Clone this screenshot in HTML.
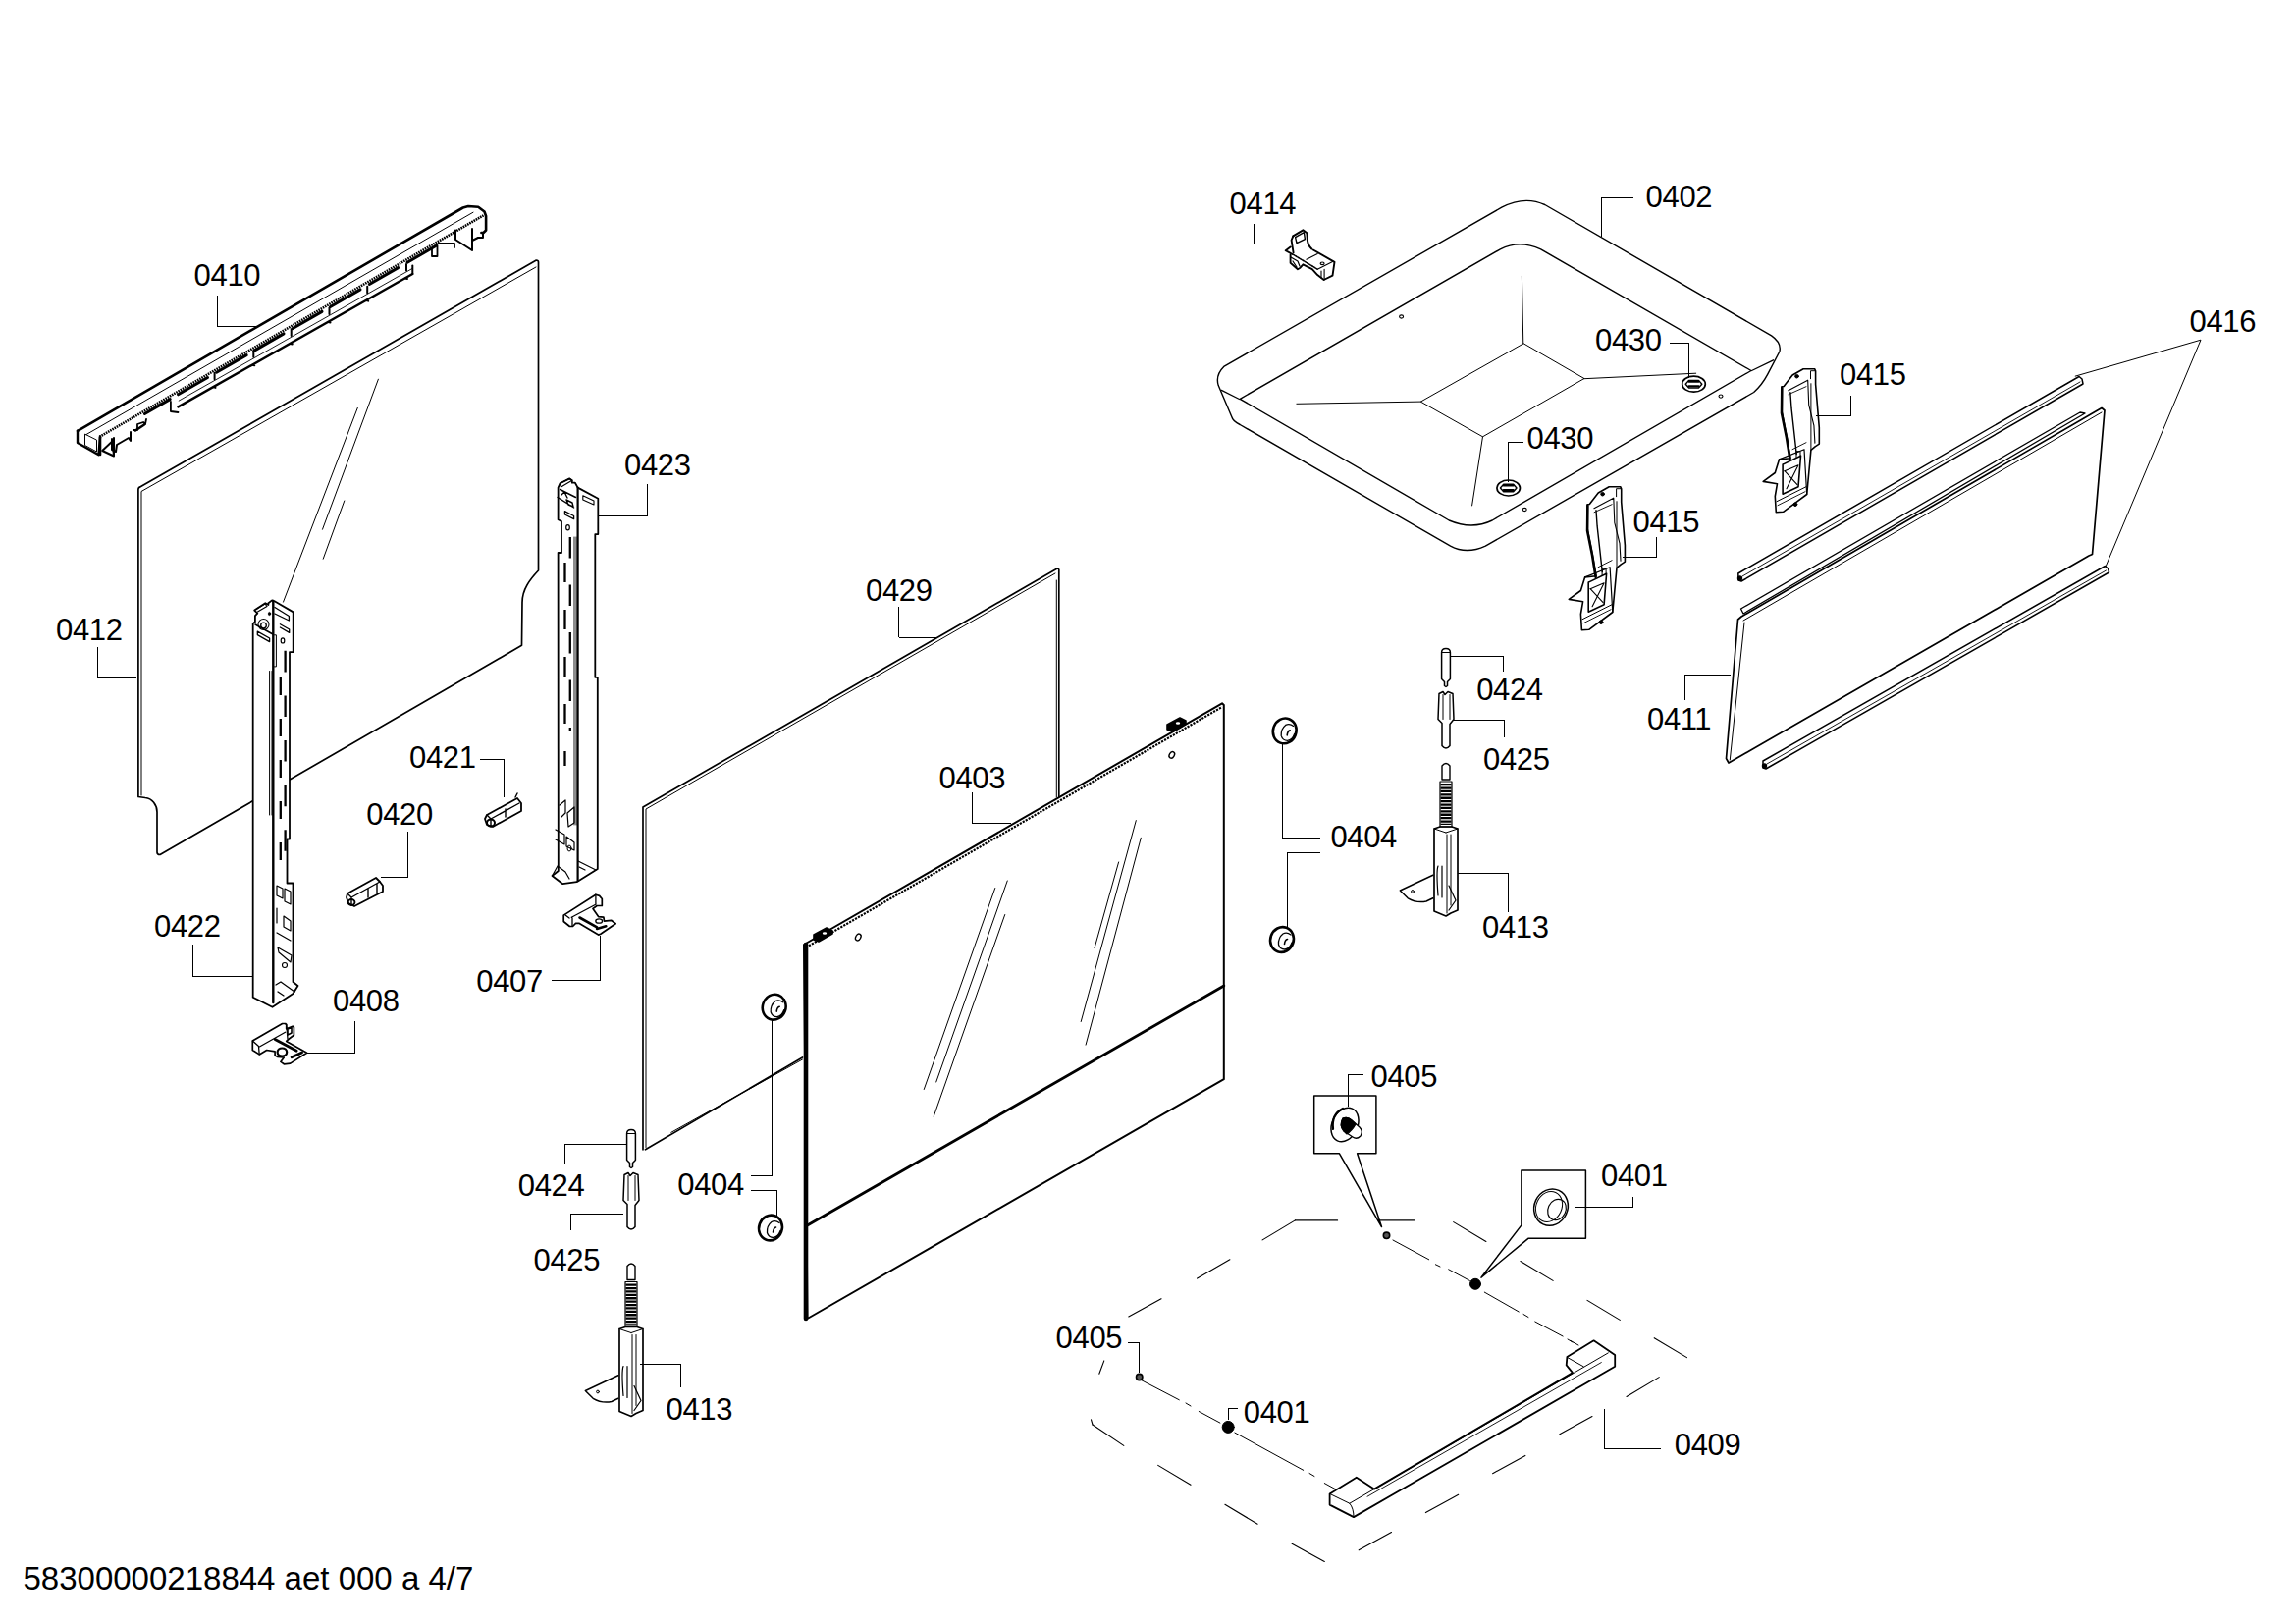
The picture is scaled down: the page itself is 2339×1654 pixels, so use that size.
<!DOCTYPE html>
<html><head><meta charset="utf-8"><style>
html,body{margin:0;padding:0;background:#fff;width:2339px;height:1654px;overflow:hidden}
svg{position:absolute;left:0;top:0}
text{font-family:"Liberation Sans",sans-serif;fill:#000;stroke:none;letter-spacing:-0.35px}
</style></head><body>
<svg width="2339" height="1654" viewBox="0 0 2339 1654" fill="none" stroke="#000" stroke-linejoin="round" stroke-linecap="round">
<path d="M79,438.8 L471.7,211.5 L477,210 L487.2,210.8 L493.5,215.5 L495.1,220 L495.1,234.5 L492.5,237 L490.4,237" stroke-width="2.6" />
<line x1="88.00" y1="442.50" x2="482.00" y2="216.20" stroke-width="1.0" />
<path d="M101.4,444.8 L492.5,219.3" stroke-width="2.6" stroke-dasharray="1.6,0.9" stroke-linecap="butt"/>
<path d="M79,438.8 L79,451 L100.5,463.2 L102,444.8" stroke-width="2.4" />
<path d="M86.5,442.5 L86.5,453.5 L98.5,460 L98.5,448.5 Z" stroke-width="1.0" />
<path d="M102,445 L102,463" stroke-width="2.6" />
<path d="M104.2,459 L114.6,449.2 L116,464.5 L104.2,459 M116,464.5 L116,446" stroke-width="2.0" />
<path d="M114,447 L114,458 L118,460 L119,453 L131,446 L133,449 L133,440" stroke-width="2.0" />
<path d="M136,438 L140,438 L140,432 L146,430 L148,432 L149,427" stroke-width="1.8" />
<line x1="138.00" y1="438.50" x2="147.00" y2="432.50" stroke-width="2.6" />
<line x1="147.40" y1="421.48" x2="173.20" y2="406.60" stroke-width="3.0" />
<line x1="181.50" y1="401.81" x2="211.50" y2="384.52" stroke-width="3.0" />
<line x1="220.60" y1="379.27" x2="251.20" y2="361.63" stroke-width="3.0" />
<line x1="259.00" y1="357.13" x2="289.00" y2="339.83" stroke-width="3.0" />
<line x1="297.80" y1="334.76" x2="328.00" y2="317.34" stroke-width="3.0" />
<line x1="336.50" y1="312.44" x2="367.00" y2="294.86" stroke-width="3.0" />
<line x1="376.30" y1="289.49" x2="405.60" y2="272.60" stroke-width="3.0" />
<line x1="415.00" y1="267.18" x2="444.30" y2="250.28" stroke-width="3.0" />
<line x1="181.50" y1="414.40" x2="420.30" y2="279.00" stroke-width="2.4" />
<line x1="182.20" y1="408.10" x2="420.00" y2="273.50" stroke-width="0.9" />
<path d="M218.6,379.86429999999996 L218.6,386.36429999999996" stroke-width="2.0" />
<path d="M217.6,394.36429999999996 L219.6,394.86429999999996" stroke-width="2.0" />
<path d="M258.3,357.3544 L258.3,363.8544" stroke-width="2.0" />
<path d="M257.3,371.8544 L259.3,372.3544" stroke-width="2.0" />
<path d="M296.7,335.5816 L296.7,342.0816" stroke-width="2.0" />
<path d="M295.7,350.0816 L297.7,350.5816" stroke-width="2.0" />
<path d="M335.5,313.582 L335.5,320.082" stroke-width="2.0" />
<path d="M334.5,328.082 L336.5,328.582" stroke-width="2.0" />
<path d="M374.2,291.6391 L374.2,298.1391" stroke-width="2.0" />
<path d="M373.2,306.1391 L375.2,306.6391" stroke-width="2.0" />
<path d="M414,269.0725 L414,275.5725" stroke-width="2.0" />
<path d="M413,283.5725 L415,284.0725" stroke-width="2.0" />
<path d="M173.9,409 L173.9,419 L181.5,420" stroke-width="1.8" />
<path d="M420.3,279 L420.3,270.6" stroke-width="2.0" />
<path d="M440,253 L440,261 L445.5,261 L445.5,250 M446.5,248 L463,248 L463,252" stroke-width="1.8" />
<path d="M464,234.5 L464,244 L481,255 L481,233 M481,245 L487,242 L492,242 L492,237" stroke-width="2.0" />
<path d="M140.9,811.5 L140.9,498.5 Q141,496 143.5,495.6 L546.3,265 Q548.5,265 548.5,267 L548.5,581 C540,590 532,600 532,613.5 L531.5,657.3 L163,870.5 Q160,870.5 160,868 L160,827 C160,820 155,813 148,812.5 L140.9,811.5" stroke-width="1.7" />
<path d="M144,810 L144,500.5 L546,272" stroke-width="1.0" />
<line x1="385.40" y1="386.20" x2="328.50" y2="539.20" stroke-width="1.0" />
<line x1="364.30" y1="415.40" x2="288.50" y2="613.10" stroke-width="1.0" />
<line x1="350.80" y1="510.00" x2="329.20" y2="569.20" stroke-width="1.0" />
<path d="M257.7,1015.7 L257.7,635.1 L259.9,633.3 L259.9,627.1 L262.3,624.6 L259.2,621.6 L270.3,614.2 L273.4,616 L273.4,614.2 L277.1,611.4 L279.6,612.3 L298.7,623.4 L298.7,664.1 L295,664.1 L295,854.5 L292.5,854.5 L292.5,899.5 L298.5,899.5 L298.5,1000 L303.5,1004 L298.5,1012 L277.5,1025.8 L257.7,1015.7" stroke-width="1.8" fill="#fff"/>
<line x1="278.30" y1="612.00" x2="278.30" y2="1021.00" stroke-width="2.4" />
<path d="M274.6,683.5 L274.6,830 M277,683.5 L277,830" stroke-width="1.0" />
<path d="M279.5,646.8 L281.4,646.8 L281.4,678.9 L279.5,678.9" stroke-width="1.0" />
<path d="M285.8,690 L285.8,890" stroke-width="2.3" stroke-dasharray="18,24" stroke-linecap="butt"/>
<path d="M290.6,662.8 L290.6,890" stroke-width="2.3" stroke-dasharray="21.6,24" stroke-linecap="butt"/>
<path d="M261,620.5 L270,615 L272,617.5 L262.5,623" stroke-width="1.2" />
<path d="M279.9,618.5 L294.4,627.5 L294.4,632 L279.9,625" stroke-width="1.3" />
<path d="M285.4,635.7 L294.7,641 L294.7,644.4 L285.4,639" stroke-width="1.3" />
<ellipse cx="288" cy="652.4" rx="1.8" ry="2.6" stroke-width="1.2"/>
<circle cx="268.5" cy="636" r="5.5" stroke-width="1.1"/>
<circle cx="268.5" cy="637" r="2.8" stroke-width="1.3"/>
<path d="M260,636 L278,646" stroke-width="1.6" />
<path d="M262.3,643.1 L274.6,650 L274.6,653.6 L262.3,646.6 Z" stroke-width="1.3" />
<ellipse cx="274.5" cy="625" rx="1.2" ry="1.6" fill="#000" stroke-width="0.8"/>
<path d="M282,902 L288,905 L288,915 L282,912 Z M290,905 L296,908 L296,921 L290,918 Z" stroke-width="1.2" />
<path d="M282,925 L282,940 M289,933 L296,938 L296,948 L289,944 Z" stroke-width="1.2" />
<path d="M282,950 L296,958 M283,965 L297,973 L296,980 L290,975 L284,970 Z" stroke-width="1.2" />
<circle cx="290" cy="983" r="2.5" stroke-width="1.1"/>
<path d="M281,1003 L286,1000 L300,1010 M283,1010 L289,1014" stroke-width="1.3" />
<path d="M568.8,887 L568.6,563 L572,563 L572,531 L568.6,529.3 L568.6,496.6 L570.5,492.3 L580.3,487.4 L582.8,489.2 L582.8,491.7 L585.9,491.7 L588.6,496.6 L609.3,507.7 L609.3,544.1 L606.3,544.1 L606.3,689.8 L608.8,689.8 L608.8,885 L587.6,898.2 L573.3,900.2 L562.5,892 L568.8,887" stroke-width="1.8" fill="#fff"/>
<line x1="588.60" y1="496.60" x2="588.60" y2="897.00" stroke-width="2.2" />
<path d="M585,547 L585,840 M587,547 L587,840" stroke-width="0.9" />
<path d="M593.8,504.8 L605,510 L605,514 L593.8,509 Z" stroke-width="1.1" />
<path d="M575.5,573 L575.5,780" stroke-width="2.3" stroke-dasharray="20,28" stroke-linecap="butt"/>
<path d="M580.8,547 L580.8,745" stroke-width="2.3" stroke-dasharray="21.5,27" stroke-linecap="butt"/>
<path d="M570.5,492.3 L580.3,487.4 L582.8,489.2 L571.5,496 Z" stroke-width="1.2" />
<path d="M570.5,498.5 L586.5,506.5 M568,506.5 L584.6,517 M572,504 L575,501 L578,507 M577,509 L583,512 L584,516 L579,514 Z" stroke-width="1.4" />
<path d="M575.4,520.7 L584.6,525.5 L584.6,528.7 L575.4,524 Z" stroke-width="1.3" />
<ellipse cx="578.5" cy="537.3" rx="1.8" ry="2.6" stroke-width="1.2"/>
<path d="M570,820 L576,815 L576,828 L572,832 M578,828 L585,822 L585,838 L579,842 Z" stroke-width="1.2" />
<path d="M566,845 L575,850 L575,860 L566,855 M577,852 L585,858 L585,866 L577,862 Z" stroke-width="1.2" />
<ellipse cx="580" cy="864" rx="2" ry="3" stroke-width="1.0"/>
<path d="M562.5,892 L568,882 L576,888 L580,895 M589,877 L607,886 M590,883 L596,886" stroke-width="1.2" />
<path d="M496,830 L527,813 L531,818 L531,826 L502,842 L496,840 L494,834 Z" stroke-width="1.8" />
<path d="M496,830 L500,834 L529,818 M500,834 L500,842 M515,824 L515,832 M525,812 L527,808" stroke-width="1.4" />
<ellipse cx="500" cy="838" rx="4" ry="3.5" stroke-width="2"/>
<path d="M354,910 L383,894 L387,898 L390,902 L390,908 L361,923 L355,920 L353,914 Z" stroke-width="1.8" />
<path d="M354,910 L358,914 L387,898 M358,914 L358,922 M375,905 L375,914 M384,900 L384,910" stroke-width="1.4" />
<ellipse cx="358" cy="919" rx="3.5" ry="3" stroke-width="1.8"/>
<path d="M574.2,932.1 L606.9,911.2 L610.6,912.4 L613.3,915.5 L613.3,922.5 L608.1,922.5 L604,925.5 L609.6,933.6 L614.9,934.2 L615.5,938.2 L622.6,937.3 L627.2,940.7 L611.8,951.2 L609.6,952.1 L590.2,940.4 L586.5,940.4 L583.5,943.5 L580.4,943.5 L574.2,938.5 Z" stroke-width="1.7" />
<path d="M606.9,911.2 L606.9,921 M582.2,934.2 L607.2,921 M583,935 L583,943 M576,932 L580,935" stroke-width="1.3" />
<line x1="590.50" y1="934.50" x2="608.10" y2="944.40" stroke-width="2.6" />
<line x1="608.10" y1="946.00" x2="617.30" y2="943.30" stroke-width="2.6" />
<ellipse cx="610.2" cy="938" rx="3.4" ry="2.2" stroke-width="1.3"/>
<path d="M257.3,1060.1 L287.6,1042.5 L290.6,1042.5 L291.7,1043.5 L291.7,1047.8 L298.1,1045.2 L299.4,1046.2 L299.4,1054.3 L294.4,1058 L291.7,1060.4 L312.6,1072.3 L295.7,1083.1 L289.3,1083.8 L285.9,1081.4 L289.3,1077 L282.5,1076.3 L280.1,1075 L280.1,1070.9 L271.7,1069.5 L264.2,1073.9 L257.3,1069.5 Z" stroke-width="1.7" />
<path d="M257.3,1060.1 L263.5,1065.5 L264.2,1073.9 M263.5,1066.5 L290.6,1051.3 M291.7,1043.5 L293,1058" stroke-width="1.3" />
<line x1="280.10" y1="1058.50" x2="302.20" y2="1070.20" stroke-width="2.8" />
<line x1="297.10" y1="1076.70" x2="307.60" y2="1071.90" stroke-width="2.8" />
<ellipse cx="287.4" cy="1071.5" rx="4.8" ry="4" stroke-width="2.2"/>
<path d="M293,1048 L297,1046.5 L297,1052 L293,1054 Z" stroke-width="1.6" />
<path d="M655,1170.8 L655,822 L1077.5,578.8 L1078.8,580 L1078.8,811.3" stroke-width="1.7" />
<path d="M658,1168.5 L658,824 L1075,584" stroke-width="1.0" />
<line x1="1076.30" y1="591.00" x2="1076.30" y2="812.00" stroke-width="1.0" />
<line x1="657.50" y1="1170.80" x2="817.50" y2="1077.00" stroke-width="1.7" />
<line x1="683.80" y1="1153.30" x2="817.50" y2="1079.00" stroke-width="1.0" />
<path d="M819,962 L1245,716.3 L1246.8,718 L1246.8,1099.2 L822.5,1343 Z" stroke-width="2.0" fill="#fff"/>
<line x1="821.00" y1="962.00" x2="821.00" y2="1343.00" stroke-width="4.6" />
<path d="M821,965 L1245,720" stroke-width="2.2" stroke-dasharray="2.2,1.2" stroke-linecap="butt"/>
<line x1="822.50" y1="1248.00" x2="1246.80" y2="1004.00" stroke-width="2.8" />
<line x1="1013.75" y1="904.50" x2="941.25" y2="1109.50" stroke-width="1.0" />
<line x1="1026.25" y1="897.00" x2="953.75" y2="1102.00" stroke-width="1.0" />
<line x1="1023.75" y1="931.50" x2="951.25" y2="1137.00" stroke-width="1.0" />
<line x1="1157.30" y1="835.60" x2="1101.20" y2="1040.50" stroke-width="1.0" />
<line x1="1162.30" y1="853.30" x2="1106.10" y2="1064.10" stroke-width="1.0" />
<line x1="1139.60" y1="878.00" x2="1115.00" y2="965.60" stroke-width="1.0" />
<path d="M829,952 L842,945 L848,948 L848,951 L834,959 L829,957 Z" stroke-width="1.6" fill="#000"/>
<ellipse cx="840" cy="950.5" rx="2.2" ry="1.2" fill="#fff" stroke="none"/>
<ellipse cx="874.3" cy="954.5" rx="2.5" ry="3.5" transform="rotate(30 874.3 954.5)" stroke-width="1.4"/>
<path d="M1189,738 L1202,731 L1208,734 L1208,737 L1195,745 L1189,743 Z" stroke-width="1.6" fill="#000"/>
<ellipse cx="1200" cy="736.5" rx="2.2" ry="1.2" fill="#fff" stroke="none"/>
<ellipse cx="1193.8" cy="768.8" rx="2.5" ry="3.5" transform="rotate(30 1193.8 768.8)" stroke-width="1.4"/>
<ellipse cx="788.7" cy="1025.7" rx="11.8" ry="13" transform="rotate(20 788.7 1025.7)" stroke-width="2.6"/>
<path d="M797.7,1020.7 Q793.7,1017.7 789.7,1019.7 Q784.7,1023.7 785.2,1030.7 Q786.7,1035.7 791.7,1035.7 Q796.7,1034.7 798.7,1028.7" stroke-width="1.3"/>
<path d="M794.2,1025.2 Q791.7,1025.7 791.2,1030.2" stroke-width="1.6"/>
<ellipse cx="785" cy="1250.5" rx="11.8" ry="13" transform="rotate(20 785 1250.5)" stroke-width="2.6"/>
<path d="M794,1245.5 Q790,1242.5 786,1244.5 Q781,1248.5 781.5,1255.5 Q783,1260.5 788,1260.5 Q793,1259.5 795,1253.5" stroke-width="1.3"/>
<path d="M790.5,1250.0 Q788,1250.5 787.5,1255.0" stroke-width="1.6"/>
<ellipse cx="1308.7" cy="744.4" rx="11.8" ry="13" transform="rotate(20 1308.7 744.4)" stroke-width="2.6"/>
<path d="M1317.7,739.4 Q1313.7,736.4 1309.7,738.4 Q1304.7,742.4 1305.2,749.4 Q1306.7,754.4 1311.7,754.4 Q1316.7,753.4 1318.7,747.4" stroke-width="1.3"/>
<path d="M1314.2,743.9 Q1311.7,744.4 1311.2,748.9" stroke-width="1.6"/>
<ellipse cx="1306" cy="957" rx="11.8" ry="13" transform="rotate(20 1306 957)" stroke-width="2.6"/>
<path d="M1315,952 Q1311,949 1307,951 Q1302,955 1302.5,962 Q1304,967 1309,967 Q1314,966 1316,960" stroke-width="1.3"/>
<path d="M1311.5,956.5 Q1309,957 1308.5,961.5" stroke-width="1.6"/>
<path d="M638.6,1154.5 Q638.6,1150.5 643,1150.5 Q647.4,1150.5 647.4,1154.5 L647.4,1181.5 L644.5,1184.5 L644.5,1188.5 L643,1189.5 L641.5,1188.5 L641.5,1184.5 L638.6,1181.5 Z" stroke-width="1.5" />
<line x1="638.60" y1="1154.50" x2="647.40" y2="1154.50" stroke-width="1.0" />
<path d="M636,1196.5 L640,1194.5 L642,1197.5 L645,1194.5 L650,1196.5 L651,1222.5 L647,1227.5 L647,1249.5 Q643,1254.5 639,1249.5 L639,1226.5 L635,1222.5 Z" stroke-width="1.5" />
<line x1="640.00" y1="1197.50" x2="640.00" y2="1222.50" stroke-width="1.0" />
<line x1="647.00" y1="1197.50" x2="647.00" y2="1222.50" stroke-width="1.0" />
<path d="M639,1289.5 Q643,1284.5 647,1289.5 L647,1303.5 L639,1303.5 Z" stroke-width="1.4" />
<path d="M637,1305.5 L649,1305.5 L649,1351.5 L637,1351.5 Z" stroke-width="1.2"/>
<path d="M643,1307.5 L643,1349.5" stroke-width="11" stroke-dasharray="2.3,1.1" stroke-linecap="butt"/>
<path d="M631,1353.5 L637,1351.5 L649,1351.5 L655,1353.5 L655,1436.5 L648,1439.5 L643,1442.5 L631,1437.5 Z" stroke-width="1.7" />
<line x1="631.00" y1="1353.50" x2="643.00" y2="1357.50" stroke-width="1.0" />
<line x1="643.00" y1="1357.50" x2="655.00" y2="1353.50" stroke-width="1.0" />
<line x1="644.00" y1="1359.50" x2="644.00" y2="1439.50" stroke-width="1.0" />
<line x1="648.00" y1="1359.50" x2="648.00" y2="1431.50" stroke-width="1.0" />
<path d="M635,1391.5 Q633,1396.5 635,1421.5 M639,1391.5 L639,1423.5" stroke-width="1.2" />
<path d="M646,1411.5 L653,1426.5 L646,1436.5" stroke-width="1.2" />
<path d="M629.8,1400.7 L596.3,1416.5 L604.2,1424.3 Q613,1429.5 623,1427.5 L629.8,1424.3" stroke-width="1.5"/>
<circle cx="609" cy="1417.5" r="1.4" stroke-width="1"/>
<path d="M1468.6,664.5 Q1468.6,660.5 1473,660.5 Q1477.4,660.5 1477.4,664.5 L1477.4,691.5 L1474.5,694.5 L1474.5,698.5 L1473,699.5 L1471.5,698.5 L1471.5,694.5 L1468.6,691.5 Z" stroke-width="1.5" />
<line x1="1468.60" y1="664.50" x2="1477.40" y2="664.50" stroke-width="1.0" />
<path d="M1466,706.5 L1470,704.5 L1472,707.5 L1475,704.5 L1480,706.5 L1481,732.5 L1477,737.5 L1477,759.5 Q1473,764.5 1469,759.5 L1469,736.5 L1465,732.5 Z" stroke-width="1.5" />
<line x1="1470.00" y1="707.50" x2="1470.00" y2="732.50" stroke-width="1.0" />
<line x1="1477.00" y1="707.50" x2="1477.00" y2="732.50" stroke-width="1.0" />
<path d="M1469,780 Q1473,775 1477,780 L1477,794 L1469,794 Z" stroke-width="1.4" />
<path d="M1467,796 L1479,796 L1479,842 L1467,842 Z" stroke-width="1.2"/>
<path d="M1473,798 L1473,840" stroke-width="11" stroke-dasharray="2.3,1.1" stroke-linecap="butt"/>
<path d="M1461,844 L1467,842 L1479,842 L1485,844 L1485,927 L1478,930 L1473,933 L1461,928 Z" stroke-width="1.7" />
<line x1="1461.00" y1="844.00" x2="1473.00" y2="848.00" stroke-width="1.0" />
<line x1="1473.00" y1="848.00" x2="1485.00" y2="844.00" stroke-width="1.0" />
<line x1="1474.00" y1="850.00" x2="1474.00" y2="930.00" stroke-width="1.0" />
<line x1="1478.00" y1="850.00" x2="1478.00" y2="922.00" stroke-width="1.0" />
<path d="M1465,882 Q1463,887 1465,912 M1469,882 L1469,914" stroke-width="1.2" />
<path d="M1476,902 L1483,917 L1476,927" stroke-width="1.2" />
<path d="M1459.8,891.2 L1426.3,907 L1434.2,914.8 Q1443,920 1453,918 L1459.8,914.8" stroke-width="1.5"/>
<circle cx="1439" cy="908" r="1.4" stroke-width="1"/>
<path d="M1529.8,211.2 Q1553,199 1573.8,208.5 L1804.6,341.8 Q1815,349 1812.9,358 L1800.5,381.6 Q1795,392 1786.7,399.5 L1513.3,556.1 Q1494,565 1477.6,556.1 L1263.2,432.5 Q1256,429 1255,425 L1241.2,392.6 Q1238,382 1246.7,373.4 Z" stroke-width="1.4" />
<path d="M1263.2,406.3 L1528.4,253.8 Q1547.7,244 1569.6,253.8 L1784,377.5 L1520.2,530 Q1499.6,540 1476.2,530 Z" stroke-width="1.4" />
<path d="M1551.8,350 L1447.3,409.1 L1510.5,444.8 L1613.6,385.7 Z" stroke-width="1.0" />
<line x1="1262.50" y1="406.50" x2="1244.30" y2="397.40" stroke-width="1.3" />
<line x1="1784.50" y1="377.50" x2="1806.50" y2="366.80" stroke-width="1.3" />
<line x1="1551.80" y1="350.00" x2="1550.40" y2="281.30" stroke-width="1.0" />
<line x1="1447.30" y1="409.10" x2="1320.90" y2="411.30" stroke-width="1.0" />
<line x1="1510.50" y1="444.80" x2="1499.60" y2="514.90" stroke-width="1.0" />
<line x1="1613.60" y1="385.70" x2="1727.70" y2="380.20" stroke-width="1.0" />
<ellipse cx="1427.6" cy="322.5" rx="2" ry="1.6" stroke-width="1.1"/>
<ellipse cx="1753" cy="403.6" rx="2" ry="1.6" stroke-width="1.1"/>
<ellipse cx="1553.2" cy="519" rx="2" ry="1.6" stroke-width="1.1"/>
<ellipse cx="1725.5" cy="391.2" rx="11.8" ry="8" stroke-width="1.7"/>
<path d="M1717.2,391.2 L1720.5,387.4 L1730.5,387.4 L1733.8,391.2 L1730.5,395.0 L1720.5,395.0 Z" stroke-width="1.4"/>
<path d="M1720.5,388.7 L1730.5,388.7 M1720.5,393.2 L1730.5,393.2" stroke-width="2.0"/>
<ellipse cx="1536.7" cy="497" rx="11.8" ry="8" stroke-width="1.7"/>
<path d="M1528.4,497 L1531.7,493.2 L1541.7,493.2 L1545.0,497 L1541.7,500.8 L1531.7,500.8 Z" stroke-width="1.4"/>
<path d="M1531.7,494.5 L1541.7,494.5 M1531.7,499 L1541.7,499" stroke-width="2.0"/>
<path d="M1317.3,240.4 L1327.4,234.3 L1331.4,237.2 L1331.9,244.6 Q1332.5,250 1336.3,253.5" stroke-width="2.0" />
<path d="M1337.8,254.5 L1359.5,266.8 L1357.5,280.6 L1348.6,285 L1342.2,280.1 L1336.8,274.2 L1327.4,269.3 L1324.5,272.7 L1322,274.2 L1314.6,267.8 L1314.6,259.4" stroke-width="1.9" />
<path d="M1317.3,240.4 L1315.6,244.6 L1317.6,257.4 M1309.7,255.2 L1314.6,251.5 M1309.7,255.2 L1316.6,259" stroke-width="1.9" />
<path d="M1319.6,241.7 L1328.4,236.7 L1329.4,243.6 L1321,247.6 Z" stroke-width="1.4" />
<path d="M1317.6,259.4 L1342.2,274.2" stroke-width="1.6" stroke-dasharray="1.5,1.2"/>
<path d="M1330.9,264.3 L1342.2,258.4 M1342.2,274.2 L1358,266.3 M1349.1,274.2 L1349.1,285 M1346,276 L1346,283" stroke-width="1.1" />
<path d="M1315,262 L1322,266 L1324,271 M1317,266 L1321,272" stroke-width="1.2" />
<ellipse cx="1347.1" cy="268.3" rx="2" ry="1.3" stroke-width="1.1"/>
<path d="M1837.1,375.7 L1848.6,375.7 L1849.6,377.8 L1849.6,391.4 L1853.3,435.4 L1853.3,452.1 L1849.1,454.8 L1844.9,458.4 L1840.7,503.5 L1816.6,521.3 L1809.3,521.8 L1808.3,505.5 L1810.5,492.7 L1796.2,490.4 L1808.3,481.5 L1812.5,467.9 L1824.0,466.8 L1820.3,445.9 L1815.1,418.6 L1815.0,393.7 L1817.2,393.5 L1826.1,382.0 Z" stroke-width="1.6" fill="#fff"/>
<path d="M1815.3,394.7 L1815.0,420.7 L1820.0,445.7 L1823.5,467.7" stroke-width="2.6" />
<path d="M1821.8,397.7 L1841.7,387.2 L1842.7,412.4 L1847.9,433.3 L1848.9,451.1" stroke-width="1.1" />
<path d="M1823.9,399.8 L1825.0,415.7 L1830.2,462.6" stroke-width="1.4" />
<path d="M1844.5,385.7 L1844.5,377.7 L1848.6,377.7" stroke-width="1.0" />
<path d="M1844.9,458.4 L1844.9,390.7" stroke-width="1.0" />
<path d="M1826.0,457.7 L1840.0,450.7" stroke-width="0.9" />
<path d="M1822.0,401.7 L1840.0,393.7" stroke-width="0.9" />
<path d="M1812.5,467.9 L1838.0,457.7 L1840.7,503.5" stroke-width="1.2" />
<path d="M1816.1,473.1 L1834.5,464.2 L1832.0,495.7 L1816.1,503.2 L1816.1,473.1" stroke-width="1.6" />
<path d="M1818.0,479.7 L1832.0,473.7 L1820.0,497.7" stroke-width="1.1" />
<path d="M1818.0,479.7 L1831.0,493.7" stroke-width="1.1" />
<path d="M1810.0,510.7 L1840.0,495.7" stroke-width="1.0" />
<path d="M1811.0,514.7 L1839.0,500.7" stroke-width="0.9" />
<path d="M1830.0,465.7 L1830.0,459.7 L1834.0,459.7 L1834.0,463.7" stroke-width="1.0" />
<circle cx="1830.5" cy="383.2" r="1.8" fill="#000" stroke-width="1"/>
<circle cx="1829.0" cy="513.7" r="1.8" fill="#000" stroke-width="1"/>
<path d="M1639.2,495.7 L1650.7,495.7 L1651.7,497.8 L1651.7,511.4 L1655.4,555.4 L1655.4,572.1 L1651.2,574.8 L1647.0,578.4 L1642.8,623.5 L1618.7,641.3 L1611.4,641.8 L1610.4,625.5 L1612.6,612.7 L1598.3,610.4 L1610.4,601.5 L1614.6,587.9 L1626.1,586.8 L1622.4,565.9 L1617.2,538.6 L1617.1,513.7 L1619.3,513.5 L1628.2,502.0 Z" stroke-width="1.6" fill="#fff"/>
<path d="M1617.4,514.7 L1617.1,540.7 L1622.1,565.7 L1625.6,587.7" stroke-width="2.6" />
<path d="M1623.9,517.7 L1643.8,507.2 L1644.8,532.4 L1650.0,553.3 L1651.0,571.1" stroke-width="1.1" />
<path d="M1626.0,519.8 L1627.1,535.7 L1632.3,582.6" stroke-width="1.4" />
<path d="M1646.6,505.7 L1646.6,497.7 L1650.7,497.7" stroke-width="1.0" />
<path d="M1647.0,578.4 L1647.0,510.7" stroke-width="1.0" />
<path d="M1628.1,577.7 L1642.1,570.7" stroke-width="0.9" />
<path d="M1624.1,521.7 L1642.1,513.7" stroke-width="0.9" />
<path d="M1614.6,587.9 L1640.1,577.7 L1642.8,623.5" stroke-width="1.2" />
<path d="M1618.2,593.1 L1636.6,584.2 L1634.1,615.7 L1618.2,623.2 L1618.2,593.1" stroke-width="1.6" />
<path d="M1620.1,599.7 L1634.1,593.7 L1622.1,617.7" stroke-width="1.1" />
<path d="M1620.1,599.7 L1633.1,613.7" stroke-width="1.1" />
<path d="M1612.1,630.7 L1642.1,615.7" stroke-width="1.0" />
<path d="M1613.1,634.7 L1641.1,620.7" stroke-width="0.9" />
<path d="M1632.1,585.7 L1632.1,579.7 L1636.1,579.7 L1636.1,583.7" stroke-width="1.0" />
<circle cx="1632.6" cy="503.2" r="1.8" fill="#000" stroke-width="1"/>
<circle cx="1631.1" cy="633.7" r="1.8" fill="#000" stroke-width="1"/>
<path d="M1770.8,584 L2118,383.5 L2121,386 L2122,391 L1774,592 L1771,591 Z" stroke-width="1.5" />
<line x1="1775.00" y1="587.00" x2="2119.00" y2="389.00" stroke-width="0.9" />
<circle cx="1772.5" cy="589" r="2" fill="#000" stroke-width="1.4"/>
<path d="M1796,775 L2144.5,576.5 L2147.5,579 L2148.5,583 L1799,783 L1796,782 Z" stroke-width="1.5" />
<line x1="1800.00" y1="778.00" x2="2145.50" y2="581.00" stroke-width="0.9" />
<circle cx="1797.5" cy="780" r="2" fill="#000" stroke-width="1.4"/>
<path d="M1773.5,620 L2119,420 L2124,421 L1776,625 Z" stroke-width="1.3" />
<path d="M1774,628 L2141,415.5 L2144,418 L2131.5,564.5 L2128,566 L1761,777 L1758.5,772.5 L1770.5,631 Z" stroke-width="1.7" />
<path d="M1776,632 L2141,420 M1777,634 L1762.3,774" stroke-width="1.0" />
<path d="M1338.7,1115.9 H1401.9 V1174.7 H1382.6 L1407.5,1249.6 L1364.3,1174.7 H1338.7 Z" stroke-width="1.5" />
<path d="M1549.9,1192 H1615.4 V1261.2 H1557.2 L1508.9,1301.1 L1549.9,1247.9 Z" stroke-width="1.5" />
<ellipse cx="1370" cy="1145.5" rx="13" ry="18" transform="rotate(25 1370 1145.5)" stroke-width="1.5" fill="#fff"/>
<path d="M1358,1150 Q1356,1135 1368,1129" stroke-width="2.2"/>
<path d="M1368,1139 Q1373,1137 1377,1141 L1385,1148 Q1389,1152 1386,1157 Q1382,1161 1378,1158 L1369,1152 Q1364,1146 1368,1139 Z" stroke-width="1.3" fill="#fff"/>
<path d="M1368,1139 Q1373,1137 1377,1141 L1381,1145 Q1377,1152 1372,1155 L1369,1152 Q1364,1146 1368,1139 Z" stroke-width="1.2" fill="#000"/>
<ellipse cx="1580" cy="1229.6" rx="17" ry="19" transform="rotate(25 1580 1229.6)" stroke-width="1.5"/>
<ellipse cx="1578" cy="1229" rx="13" ry="16" transform="rotate(25 1578 1229)" stroke-width="1.0"/>
<ellipse cx="1586" cy="1232" rx="9" ry="11" transform="rotate(25 1586 1232)" stroke-width="1.2"/>
<circle cx="1412.5" cy="1258.3" r="3.2" stroke-width="1.6" fill="#555"/>
<circle cx="1160.7" cy="1402.6" r="3.2" stroke-width="1.6" fill="#555"/>
<circle cx="1503" cy="1307.8" r="5.5" fill="#000" stroke-width="1"/>
<circle cx="1251.2" cy="1453.4" r="6" fill="#000" stroke-width="1"/>
<line x1="1286.10" y1="1262.90" x2="1319.40" y2="1242.90" stroke-width="1.1" />
<line x1="1319.40" y1="1242.90" x2="1362.60" y2="1242.90" stroke-width="1.1" />
<line x1="1404.20" y1="1242.90" x2="1440.80" y2="1242.90" stroke-width="1.1" />
<line x1="1480.70" y1="1244.60" x2="1513.90" y2="1264.50" stroke-width="1.1" />
<line x1="1548.90" y1="1284.50" x2="1582.10" y2="1304.40" stroke-width="1.1" />
<line x1="1617.00" y1="1324.40" x2="1650.30" y2="1344.40" stroke-width="1.1" />
<line x1="1685.20" y1="1362.70" x2="1718.50" y2="1382.60" stroke-width="1.1" />
<line x1="1219.60" y1="1302.10" x2="1252.90" y2="1282.80" stroke-width="1.1" />
<line x1="1149.80" y1="1341.00" x2="1183.00" y2="1322.70" stroke-width="1.1" />
<line x1="1119.80" y1="1399.20" x2="1124.80" y2="1385.90" stroke-width="1.1" />
<line x1="1111.50" y1="1445.80" x2="1113.00" y2="1451.00" stroke-width="1.1" />
<line x1="1113.00" y1="1451.00" x2="1144.80" y2="1472.40" stroke-width="1.1" />
<line x1="1179.70" y1="1492.40" x2="1213.00" y2="1512.30" stroke-width="1.1" />
<line x1="1247.90" y1="1532.30" x2="1281.10" y2="1552.20" stroke-width="1.1" />
<line x1="1316.10" y1="1572.20" x2="1349.30" y2="1590.50" stroke-width="1.1" />
<line x1="1384.20" y1="1578.80" x2="1417.50" y2="1560.50" stroke-width="1.1" />
<line x1="1452.40" y1="1540.60" x2="1485.70" y2="1522.30" stroke-width="1.1" />
<line x1="1520.60" y1="1500.70" x2="1553.90" y2="1482.40" stroke-width="1.1" />
<line x1="1588.80" y1="1460.80" x2="1622.00" y2="1442.50" stroke-width="1.1" />
<line x1="1657.00" y1="1422.50" x2="1690.20" y2="1402.60" stroke-width="1.1" />
<path d="M1419,1263 L1455.7,1282.8 M1462.4,1287.8 L1467,1290 M1475.7,1292.8 L1497.3,1304.4" stroke-width="1.0" />
<path d="M1512.3,1316.1 L1547.2,1336 M1552,1338.5 L1557,1341.5 M1563.8,1346 L1592.1,1361 M1597,1364 L1602,1367 M1600,1365.5 L1608,1370" stroke-width="1.0" />
<path d="M1163.1,1405.9 L1201.3,1425.8 M1208,1429 L1213,1432 M1221.3,1437.5 L1242.9,1449.1" stroke-width="1.0" />
<path d="M1257.9,1459.1 L1327.7,1497.3 M1334,1500.5 L1339,1503.5 M1349.3,1510.6 L1361,1517" stroke-width="1.0" />
<path d="M1354.6,1521.4 L1381.8,1504.7 L1399.9,1516.6 L1602,1398.1 L1595.7,1390.4 L1596.4,1382.1 L1623.6,1365.3 L1645.2,1380 L1645.2,1391.8 L1379,1545.1 L1354.6,1532.6 Z" stroke-width="1.8" />
<path d="M1354.6,1521.4 L1374.8,1531.2 Q1379,1536 1379,1545.1 M1374.8,1531.2 L1638.3,1377.9 M1597.1,1382.8 L1613.2,1391.8" stroke-width="1.0" />
<line x1="1393.00" y1="1524.20" x2="1631.30" y2="1387.60" stroke-width="0.9" />
<text x="197.6" y="291" font-size="31">0410</text>
<text x="57" y="652" font-size="31">0412</text>
<text x="157" y="953.5" font-size="31">0422</text>
<text x="373.25" y="839.5" font-size="31">0420</text>
<text x="417" y="782" font-size="31">0421</text>
<text x="339" y="1029.5" font-size="31">0408</text>
<text x="485.25" y="1009.5" font-size="31">0407</text>
<text x="636" y="483.5" font-size="31">0423</text>
<text x="882" y="612" font-size="31">0429</text>
<text x="956.5" y="802.5" font-size="31">0403</text>
<text x="527.75" y="1218" font-size="31">0424</text>
<text x="690.25" y="1216.5" font-size="31">0404</text>
<text x="543.5" y="1293.5" font-size="31">0425</text>
<text x="678.5" y="1445.5" font-size="31">0413</text>
<text x="1676.6" y="211" font-size="31">0402</text>
<text x="1252.6" y="218" font-size="31">0414</text>
<text x="1625" y="356.5" font-size="31">0430</text>
<text x="1555.5" y="457" font-size="31">0430</text>
<text x="1663.5" y="542" font-size="31">0415</text>
<text x="1874" y="392" font-size="31">0415</text>
<text x="2230.5" y="337.5" font-size="31">0416</text>
<text x="1678" y="743" font-size="31">0411</text>
<text x="1355.4" y="862.5" font-size="31">0404</text>
<text x="1504.2" y="712.5" font-size="31">0424</text>
<text x="1511" y="783.5" font-size="31">0425</text>
<text x="1510" y="955" font-size="31">0413</text>
<text x="1396.5" y="1106.5" font-size="31">0405</text>
<text x="1631" y="1208" font-size="31">0401</text>
<text x="1075.6" y="1372.5" font-size="31">0405</text>
<text x="1266.8" y="1449" font-size="31">0401</text>
<text x="1705.8" y="1482" font-size="31">0409</text>
<text x="23.5" y="1619" font-size="33" style="letter-spacing:0">58300000218844 aet 000 a 4/7</text>
<path d="M221.2,301 V332 H260.6" stroke-width="1.0" shape-rendering="crispEdges"/>
<path d="M99.5,659.8 V690.2 H138.7" stroke-width="1.0" shape-rendering="crispEdges"/>
<path d="M196.5,962 V994.5 H257.5" stroke-width="1.0" shape-rendering="crispEdges"/>
<path d="M415.75,847 V893.25 H388.75" stroke-width="1.0" shape-rendering="crispEdges"/>
<path d="M489.5,773.5 H513.75 V812" stroke-width="1.0" shape-rendering="crispEdges"/>
<path d="M361.5,1040 V1072 H312.5" stroke-width="1.0" shape-rendering="crispEdges"/>
<path d="M562,998.25 H611.5 V953.25" stroke-width="1.0" shape-rendering="crispEdges"/>
<path d="M659.25,493.5 V525.5 H610" stroke-width="1.0" shape-rendering="crispEdges"/>
<path d="M915.5,618.5 V649 H955" stroke-width="1.0" shape-rendering="crispEdges"/>
<path d="M990.5,807.5 V838.75 H1030" stroke-width="1.0" shape-rendering="crispEdges"/>
<path d="M575,1184.5 V1165.25 H638.75" stroke-width="1.0" shape-rendering="crispEdges"/>
<path d="M581.25,1252.5 V1236 H635" stroke-width="1.0" shape-rendering="crispEdges"/>
<path d="M652.5,1389.25 H693.25 V1413" stroke-width="1.0" shape-rendering="crispEdges"/>
<path d="M786.75,1038.25 V1197.25 H765" stroke-width="1.0" shape-rendering="crispEdges"/>
<path d="M765,1212.5 H791.25 V1240.5" stroke-width="1.0" shape-rendering="crispEdges"/>
<path d="M1663.9,201.6 H1631.5 V240.1" stroke-width="1.0" shape-rendering="crispEdges"/>
<path d="M1277.5,228.3 V248.3 H1315.4" stroke-width="1.0" shape-rendering="crispEdges"/>
<path d="M1701.6,349.2 H1720.2 V384.4" stroke-width="1.0" shape-rendering="crispEdges"/>
<path d="M1551.2,450.3 H1536.7 V490.2" stroke-width="1.0" shape-rendering="crispEdges"/>
<path d="M1687.8,547.9 V567.1 H1653.5" stroke-width="1.0" shape-rendering="crispEdges"/>
<path d="M1885.7,403.2 V423.2 H1850.9" stroke-width="1.0" shape-rendering="crispEdges"/>
<path d="M2114.2,383.1 L2242,346.2 L2145,577.2" stroke-width="1.0" />
<path d="M1763.1,687.1 H1716.9 V712.7" stroke-width="1.0" shape-rendering="crispEdges"/>
<path d="M1306.5,756.2 V853.2 H1345" stroke-width="1.0" shape-rendering="crispEdges"/>
<path d="M1345,868.6 H1311.5 V946" stroke-width="1.0" shape-rendering="crispEdges"/>
<path d="M1477.6,668.6 H1531.4 V683.7" stroke-width="1.0" shape-rendering="crispEdges"/>
<path d="M1481.5,733.2 H1532.7 V750.7" stroke-width="1.0" shape-rendering="crispEdges"/>
<path d="M1485.4,889.2 H1536.1 V928.6" stroke-width="1.0" shape-rendering="crispEdges"/>
<path d="M1388.6,1094.9 H1373.3 V1126.5" stroke-width="1.0" shape-rendering="crispEdges"/>
<path d="M1605.4,1229.6 H1663.6 V1219" stroke-width="1.0" shape-rendering="crispEdges"/>
<path d="M1149.8,1367.6 H1160.7 V1397.6" stroke-width="1.0" shape-rendering="crispEdges"/>
<path d="M1251.2,1445.8 V1434.1 H1261.2" stroke-width="1.0" shape-rendering="crispEdges"/>
<path d="M1634.3,1435.8 V1475 H1691.9" stroke-width="1.0" shape-rendering="crispEdges"/>
</svg></body></html>
